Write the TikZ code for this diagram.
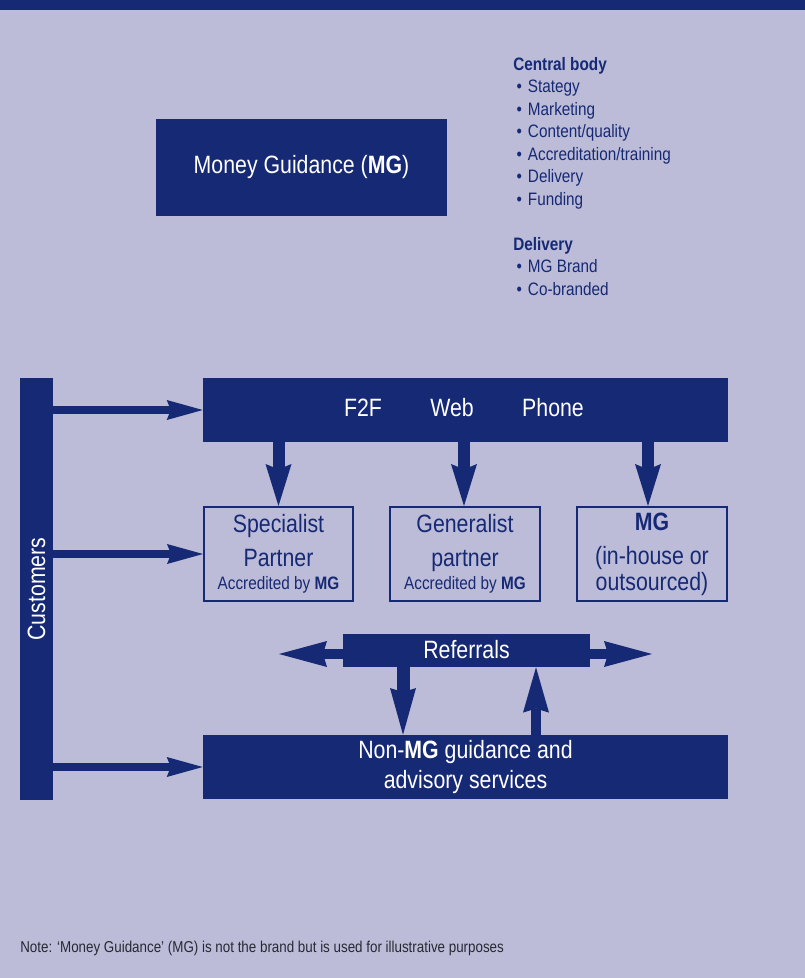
\documentclass[tikz,border=0pt]{standalone}
\usepackage{fontspec}
\usepackage{graphicx}
\setmainfont[FakeStretch=0.85]{Liberation Sans}
\usetikzlibrary{arrows.meta}
\definecolor{navy}{RGB}{22,41,116}
\definecolor{bgc}{RGB}{188,188,216}
\definecolor{notec}{RGB}{40,40,52}
\newcommand\FBig{\fontsize{18.8pt}{25.5pt}\selectfont}
\newcommand\FList{\fontsize{13.5pt}{16.875pt}\selectfont}
\newcommand\FSml{\fontsize{13.5pt}{19.5pt}\selectfont}
\newcommand\FNote{\fontsize{11.8pt}{13pt}\selectfont}
\newcommand\blt{\hspace{2.5pt}•\hspace{4.5pt}}
\begin{document}
\begin{tikzpicture}[x=0.75pt,y=-0.75pt,
  darkbox/.style={fill=navy, text=white, inner sep=0pt, align=center, font=\FBig},
  outbox/.style={draw=navy, line width=1.5pt, text=navy, inner sep=0pt, align=center, font=\FBig},
  custarrow/.style={navy, line width=6pt, -{Stealth[length=27pt,width=15pt,inset=3pt,line width=0pt]}},
  downarrow/.style={navy, line width=9pt, -{Stealth[length=31.5pt,width=19.5pt,inset=4pt,line width=0pt]}},
  refarrow/.style={navy, line width=7.5pt, -{Stealth[length=36pt,width=19.5pt,inset=3pt,line width=0pt]}},
  refdown/.style={navy, line width=9.75pt, -{Stealth[length=35pt,width=19.5pt,inset=3pt,line width=0pt]}},
  refup/.style={navy, line width=7pt, -{Stealth[length=34pt,width=19.5pt,inset=3pt,line width=0pt]}}
]
\fill[bgc] (0,0) rectangle (805,978);
\useasboundingbox (0,0) rectangle (805,978);
\fill[navy] (0,0) rectangle (805,10);

% top box
\node[darkbox, minimum width=218.25pt, minimum height=72.75pt] (mg) at (301.5,167.5) {Money Guidance (\textbf{MG})};

% list
\node[anchor=north west, text=navy, align=left, inner sep=0pt, font=\FList] (cbody) at (513,57)
 {\textbf{Central body}\\
  \blt Stategy\\
  \blt Marketing\\
  \blt Content/quality\\
  \blt Accreditation/training\\
  \blt Delivery\\
  \blt Funding\\[16.875pt]
  \textbf{Delivery}\\
  \blt MG Brand\\
  \blt Co-branded};

% customers
\node[darkbox, minimum width=24.75pt, minimum height=316.5pt] (cust) at (36.5,589) {\rotatebox{90}{Customers}};

% channels
\node[darkbox, minimum width=393.75pt, minimum height=48pt] (chan) at (465.5,410) {};
\node[text=white, font=\FBig, inner sep=0pt] (f2f) at (363,408) {F2F};
\node[text=white, font=\FBig, inner sep=0pt] (web) at (452,408) {Web};
\node[text=white, font=\FBig, inner sep=0pt] (phone) at (553,408) {Phone};

% partner boxes
\node[outbox, minimum width=111.75pt, minimum height=70.5pt] (spec) at (278.5,554)
 {Specialist\\Partner\\[-8pt]{\FSml Accredited by \textbf{MG}}};
\node[outbox, minimum width=112.5pt, minimum height=70.5pt] (gen) at (465,554)
 {Generalist\\partner\\[-8pt]{\FSml Accredited by \textbf{MG}}};
\node[outbox, minimum width=112.5pt, minimum height=70.5pt] (mgb) at (652,554)
 {\textbf{MG}\\(in-house or\\[-6pt]outsourced)};

% referrals
\node[darkbox, minimum width=185.25pt, minimum height=24.75pt] (ref) at (466.5,650.5) {\raisebox{2pt}{Referrals}};
\coordinate (refL) at (279,654);
\coordinate (refR) at (652,654);
\coordinate (dx) at (403,0);
\coordinate (ux) at (536,0);

% non-MG
\node[darkbox, minimum width=393.75pt, minimum height=48pt] (non) at (465.5,767)
 {Non-\textbf{MG} guidance and\\[-3pt]advisory services};

% note
\node[anchor=base west, text=notec, font=\FNote, inner sep=0pt] (note) at (20,952)
 {Note: ‘Money Guidance’ (MG) is not the brand but is used for illustrative purposes};

% arrows
\draw[custarrow] (cust.east |- chan.west) -- (chan.west);
\draw[custarrow] (cust.east |- spec.west) -- (spec.west);
\draw[custarrow] (cust.east |- non.west) -- (non.west);

\draw[downarrow] (spec.north |- chan.south) -- (spec.north);
\draw[downarrow] ([xshift=-0.75pt]gen.north |- chan.south) -- ([xshift=-0.75pt]gen.north);
\draw[downarrow] ([xshift=-3pt]mgb.north |- chan.south) -- ([xshift=-3pt]mgb.north);

\draw[refarrow] (ref.west |- refL) -- (refL);
\draw[refarrow] (ref.east |- refR) -- (refR);
\draw[refdown] (ref.south -| dx) -- (non.north -| dx);
\draw[refup] (non.north -| ux) -- (ref.south -| ux);
\end{tikzpicture}
\end{document}
